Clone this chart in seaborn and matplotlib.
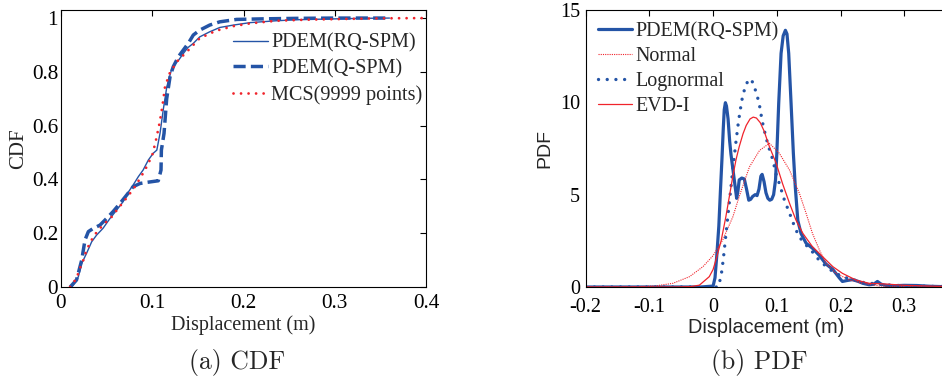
import matplotlib
matplotlib.use("Agg")
import matplotlib.pyplot as plt
import seaborn as sns

sns.set_theme(style="white")
plt.rcParams["font.family"] = ["Liberation Serif", "DejaVu Serif"]
plt.rcParams["axes.unicode_minus"] = False

BLUE = "#2454a6"
RED = "#f0232b"

# ---------------- (a) CDF ----------------
rq_cdf_x = [0.0117, 0.0135, 0.019, 0.0227, 0.028, 0.0336, 0.039, 0.046, 0.0537,
            0.061, 0.068, 0.074, 0.079, 0.0847, 0.090, 0.0957, 0.101, 0.105,
            0.1085, 0.112, 0.116, 0.121, 0.125, 0.129, 0.134, 0.139, 0.145,
            0.152, 0.163, 0.174, 0.189, 0.207, 0.236, 0.26, 0.3, 0.33, 0.36]
rq_cdf_y = [0.0, 0.007, 0.038, 0.088, 0.125, 0.168, 0.193, 0.218, 0.255,
            0.286, 0.317, 0.354, 0.379, 0.41, 0.435, 0.472, 0.497, 0.509,
            0.571, 0.658, 0.745, 0.807, 0.83, 0.844, 0.868, 0.89, 0.906,
            0.93, 0.949, 0.965, 0.974, 0.983, 0.99, 0.994, 0.997, 0.999, 1.0]

q_cdf_x = [0.010, 0.017, 0.0227, 0.0263, 0.030, 0.0354, 0.0427, 0.050, 0.057,
           0.0647, 0.072, 0.079, 0.0866, 0.0939, 0.1066, 0.1096, 0.110, 0.1129,
           0.1158, 0.1195, 0.123, 0.1286, 0.134, 0.1395, 0.145, 0.152, 0.163,
           0.174, 0.1925, 0.22, 0.26, 0.3, 0.36]
q_cdf_y = [0.0, 0.026, 0.1, 0.175, 0.206, 0.218, 0.23, 0.255, 0.28,
           0.311, 0.342, 0.373, 0.385, 0.389, 0.395, 0.435, 0.509, 0.571,
           0.70, 0.782, 0.819, 0.856, 0.881, 0.906, 0.937, 0.955, 0.974,
           0.986, 0.995, 0.997, 0.999, 1.0, 1.0]

mcs_cdf_x = [0.0099, 0.017, 0.0208, 0.0245, 0.028, 0.0354, 0.041, 0.048, 0.0556,
             0.0628, 0.070, 0.0756, 0.081, 0.0866, 0.092, 0.0957, 0.100, 0.104,
             0.108, 0.111, 0.114, 0.119, 0.127, 0.138, 0.152, 0.170, 0.189,
             0.207, 0.236, 0.27, 0.3, 0.35, 0.4]
mcs_cdf_y = [0.0, 0.032, 0.07, 0.1, 0.138, 0.187, 0.212, 0.237, 0.261,
             0.293, 0.323, 0.348, 0.373, 0.404, 0.435, 0.46, 0.49, 0.545,
             0.61, 0.67, 0.745, 0.794, 0.838, 0.875, 0.925, 0.953, 0.97,
             0.98, 0.99, 0.994, 0.996, 0.999, 1.0]

cdf_labels = ["PDEM(RQ-SPM)", "PDEM(Q-SPM)", "MCS(9999 points)"]
cdf_xticks = [0, 0.1, 0.2, 0.3, 0.4]
cdf_xticklabels = ["0", "0.1", "0.2", "0.3", "0.4"]
cdf_yticks = [0, 0.2, 0.4, 0.6, 0.8, 1.0]
cdf_yticklabels = ["0", "0.2", "0.4", "0.6", "0.8", "1"]

# ---------------- (b) PDF ----------------
rq_pdf_x = [-0.2, -0.1, -0.02, 0.0, 0.003, 0.006, 0.009, 0.0115, 0.014, 0.016,
            0.0175, 0.0193, 0.021, 0.0235, 0.026, 0.028, 0.031, 0.034, 0.037,
            0.039, 0.041, 0.045, 0.049, 0.0525, 0.056, 0.059, 0.062, 0.066,
            0.069, 0.072, 0.075, 0.077, 0.080, 0.083, 0.086, 0.089, 0.092,
            0.095, 0.098, 0.100, 0.103, 0.1067, 0.110, 0.1135, 0.116, 0.1187,
            0.1224, 0.126, 0.129, 0.133, 0.138, 0.146, 0.156, 0.167, 0.177,
            0.188, 0.198, 0.203, 0.210, 0.219, 0.228, 0.235, 0.245, 0.252,
            0.258, 0.264, 0.272, 0.285, 0.30, 0.32, 0.34, 0.36, 0.40]
rq_pdf_y = [0.0, 0.0, 0.0, 0.05, 0.5, 1.8, 3.3, 5.2, 7.0, 8.6,
            9.6, 9.98, 9.8, 9.1, 7.9, 7.2, 6.4, 5.6, 4.8,
            5.2, 5.8, 5.9, 5.85, 5.3, 4.7, 4.75, 4.9, 5.0,
            4.95, 5.3, 6.0, 6.1, 5.7, 5.1, 4.8, 4.7, 4.75,
            5.0, 5.8, 7.2, 9.95, 12.65, 13.6, 13.9, 13.7, 12.65,
            9.95, 7.24, 5.43, 3.6, 2.9, 2.37, 2.1, 1.7, 1.25,
            0.95, 0.5, 0.3, 0.35, 0.4, 0.3, 0.2, 0.12, 0.15,
            0.3, 0.15, 0.08, 0.07, 0.09, 0.08, 0.04, 0.02, 0.0]

normal_x = [-0.2, -0.15, -0.116, -0.09, -0.063, -0.037, -0.016, 0.0, 0.015,
            0.031, 0.041, 0.057, 0.073, 0.0884, 0.104, 0.12, 0.1355, 0.146,
            0.156, 0.167, 0.177, 0.193, 0.214, 0.235, 0.26, 0.3, 0.35, 0.4]
normal_y = [0.0, 0.0, 0.02, 0.06, 0.2, 0.56, 1.1, 1.7, 2.54,
            3.8, 4.9, 6.5, 7.4, 7.78, 7.24, 6.33, 5.07, 3.99,
            2.9, 2.0, 1.28, 0.74, 0.38, 0.2, 0.06, 0.01, 0.0, 0.0]

logn_x = [-0.2, 0.0, 0.008, 0.0126, 0.016, 0.020, 0.024, 0.028, 0.032, 0.036,
          0.040, 0.045, 0.050, 0.056, 0.062, 0.067, 0.072, 0.077, 0.083,
          0.088, 0.0936, 0.099, 0.104, 0.112, 0.120, 0.128, 0.135, 0.146,
          0.156, 0.164, 0.175, 0.188, 0.203, 0.214, 0.235, 0.266, 0.298,
          0.35, 0.4]
logn_y = [0.0, 0.0, 0.0, 0.6, 1.5, 2.8, 4.1, 5.4, 6.7, 7.9,
          9.0, 10.1, 10.8, 11.27, 11.1, 10.6, 10.0, 9.0, 8.1,
          7.5, 6.9, 6.1, 5.6, 4.7, 4.0, 3.26, 2.72, 2.27,
          1.9, 1.55, 1.19, 0.83, 0.56, 0.45, 0.25, 0.13, 0.07,
          0.03, 0.01]

evd_x = [-0.2, -0.06, -0.035, -0.0215, -0.006, 0.0, 0.0047, 0.0126, 0.020,
         0.026, 0.031, 0.036, 0.041, 0.047, 0.052, 0.058, 0.063, 0.068,
         0.074, 0.080, 0.0884, 0.099, 0.109, 0.120, 0.130, 0.141, 0.156,
         0.172, 0.188, 0.203, 0.224, 0.245, 0.272, 0.30, 0.35, 0.4]
evd_y = [0.0, 0.0, 0.02, 0.1, 0.56, 0.95, 1.5, 2.5, 3.8,
         5.0, 6.0, 6.9, 7.6, 8.3, 8.75, 9.1, 9.2, 9.15,
         8.9, 8.45, 7.6, 6.7, 5.6, 4.53, 3.63, 2.9, 2.18,
         1.64, 1.1, 0.74, 0.38, 0.2, 0.16, 0.09, 0.04, 0.01]

pdf_labels = ["PDEM(RQ-SPM)", "Normal", "Lognormal", "EVD-I"]
pdf_xticks = [-0.2, -0.1, 0, 0.1, 0.2, 0.3]
pdf_xticklabels = ["-0.2", "-0.1", "0", "0.1", "0.2", "0.3"]
pdf_yticks = [0, 5, 10, 15]
pdf_yticklabels = ["0", "5", "10", "15"]

W, H = 942, 381
fig = plt.figure(figsize=(W / 100, H / 100), dpi=100)
ax1 = fig.add_axes([61 / W, 1 - 287 / H, 365 / W, 277 / H])
ax2 = fig.add_axes([585.7 / W, 1 - 287 / H, 382.2 / W, 277 / H])

dotted = (0, (0.01, 2.7))

# CDF panel
sns.lineplot(x=rq_cdf_x, y=rq_cdf_y, ax=ax1, color=BLUE, lw=1.0,
             sort=False, estimator=None)
sns.lineplot(x=q_cdf_x, y=q_cdf_y, ax=ax1, color=BLUE, lw=2.5,
             linestyle=(0, (3.5, 1.5)), sort=False, estimator=None)
sns.lineplot(x=mcs_cdf_x, y=mcs_cdf_y, ax=ax1, color=RED, lw=2.0,
             linestyle=dotted, dash_capstyle="round", sort=False, estimator=None)

# PDF panel
sns.lineplot(x=rq_pdf_x, y=rq_pdf_y, ax=ax2, color=BLUE, lw=2.3,
             sort=False, estimator=None)
sns.lineplot(x=normal_x, y=normal_y, ax=ax2, color=RED, lw=0.8,
             linestyle=(0, (1, 1)), sort=False, estimator=None)
sns.lineplot(x=logn_x, y=logn_y, ax=ax2, color=BLUE, lw=2.4,
             linestyle=(0, (0.01, 2.6)), dash_capstyle="round",
             sort=False, estimator=None)
sns.lineplot(x=evd_x, y=evd_y, ax=ax2, color=RED, lw=0.9,
             sort=False, estimator=None)

for ax in (ax1, ax2):
    for sp in ax.spines.values():
        sp.set_color("black")
        sp.set_linewidth(0.8)
    ax.tick_params(direction="in", top=True, right=True, length=4, width=0.8,
                   colors="black")

ax1.set_xlim(0, 0.4)
ax1.set_ylim(0, 1.03)
ax1.set_xticks(cdf_xticks)
ax1.set_xticklabels(cdf_xticklabels)
ax1.set_yticks(cdf_yticks)
ax1.set_yticklabels(cdf_yticklabels)
ax1.tick_params(axis="both", labelsize=15.3)
ax1.tick_params(axis="x", pad=5)
ax1.tick_params(axis="y", pad=2)
ax1.set_xlabel("Displacement (m)", fontsize=14.5, labelpad=2)
ax1.set_ylabel("CDF", fontsize=15, labelpad=3)

ax2.set_xlim(-0.2, 0.4)
ax2.set_ylim(0, 15)
ax2.set_xticks(pdf_xticks)
ax2.set_xticklabels(pdf_xticklabels)
ax2.set_yticks(pdf_yticks)
ax2.set_yticklabels(pdf_yticklabels)
ax2.tick_params(axis="both", labelsize=14.5)
ax2.tick_params(axis="x", pad=8)
ax2.tick_params(axis="y", pad=4)
ax2.set_xlabel("Displacement (m)", fontsize=14.3, family="Liberation Sans")
ax2.xaxis.set_label_coords(0.473, -0.113)
ax2.set_ylabel("PDF", fontsize=14, family="Liberation Sans", labelpad=5)

ax1.legend(ax1.get_lines()[:3], cdf_labels, frameon=False, fontsize=14.6,
           loc="upper left", bbox_to_anchor=(0.471, 0.915), borderpad=0,
           borderaxespad=0, handlelength=1.75, handletextpad=0.15,
           labelspacing=0.32)
ax2.legend(ax2.get_lines()[:4], pdf_labels, frameon=False, fontsize=14.4,
           loc="upper left", bbox_to_anchor=(0.032, 0.957), borderpad=0,
           borderaxespad=0, handlelength=1.7, handletextpad=0.15,
           labelspacing=0.3)

fig.text(236.7 / W, 1 - 362 / H, "(a) CDF", family="cmr10", fontsize=18.5,
         ha="center", va="center")
fig.text(759 / W, 1 - 362 / H, "(b) PDF", family="cmr10", fontsize=18.5,
         ha="center", va="center")

fig.savefig("out.png", dpi=100)
